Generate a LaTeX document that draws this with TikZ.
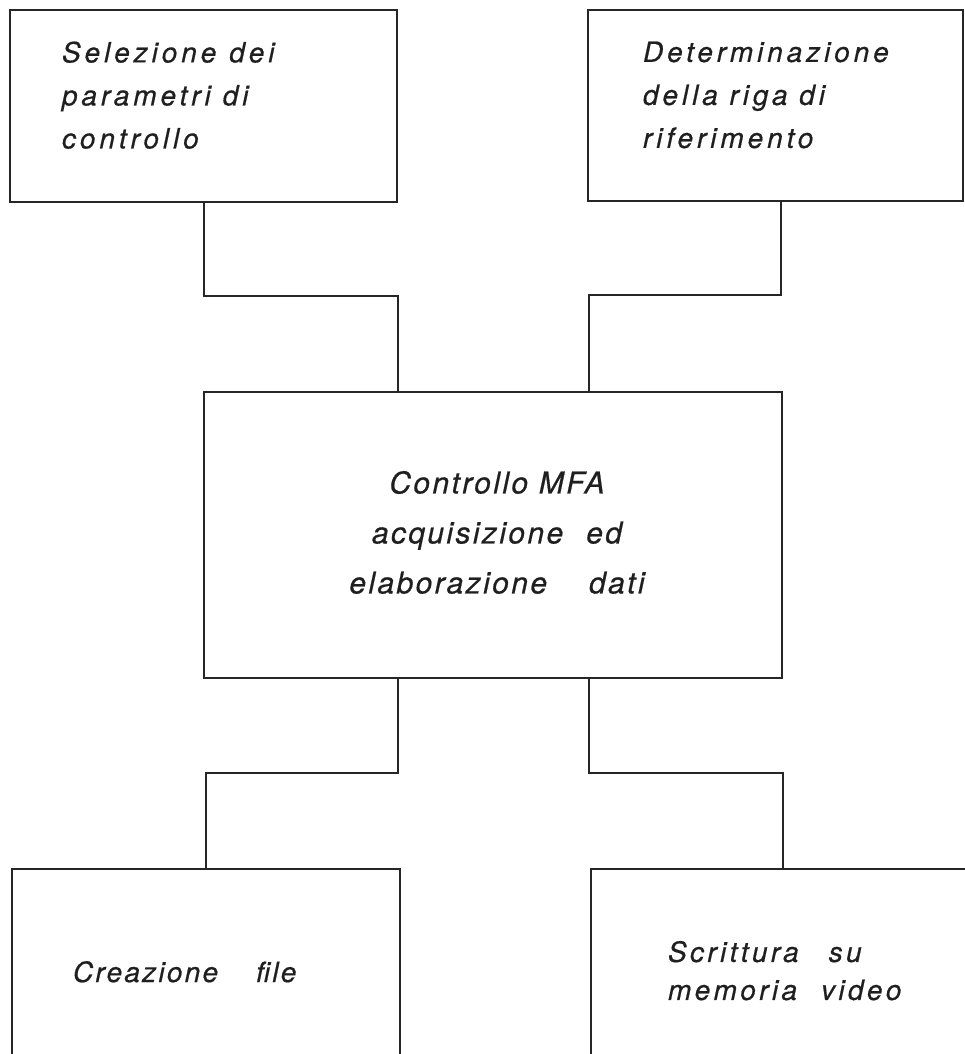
\documentclass[tikz,border=0pt]{standalone}
\usepackage{fontspec}
\setmainfont{TeX Gyre Heros}
% tracked oblique faces used inside the blocks
\newfontfamily\topfont[LetterSpace=14,FakeBold=0.6]{TeX Gyre Heros}
\newfontfamily\midfont[LetterSpace=8,FakeBold=0.6]{TeX Gyre Heros}
\newfontfamily\lowfont[LetterSpace=12,FakeBold=0.6]{TeX Gyre Heros}
\newfontfamily\lowfontb[LetterSpace=8,FakeBold=0.6]{TeX Gyre Heros}
\newcommand\wgap[1]{\hspace*{#1pt}}
\tikzset{
  blk/.style={draw=black!85, line width=2pt, rectangle, anchor=north west,
              inner sep=0pt, outer sep=0pt},
  wire/.style={draw=black!85, line width=2pt},
  lbl/.style={inner sep=0pt, outer sep=0pt, text=black!88},
}
\begin{document}
\begin{tikzpicture}[x=1pt,y=-1pt]
\useasboundingbox (0,0) rectangle (965,1054);
\clip (0,0) rectangle (965,1054);

% blocks
\node[blk, minimum width=387pt, minimum height=192pt] (sel) at (10,10) {};
\node[blk, minimum width=375pt, minimum height=191pt] (det) at (588,10) {};
\node[blk, minimum width=578pt, minimum height=286pt] (ctl) at (204,392) {};
\node[blk, minimum width=388pt, minimum height=220pt] (fil) at (12,869) {};
\node[blk, minimum width=384pt, minimum height=220pt] (vid) at (591,869) {};

% block texts
\node[lbl, anchor=north west, align=left,
      font={\topfont\itshape\fontsize{28}{43}\selectfont}] (selt) at (62,41.5)
  {Selezione\wgap{13}dei\\parametri\wgap{12}di\\controllo};
\node[lbl, anchor=north west, align=left,
      font={\topfont\itshape\fontsize{28}{43}\selectfont}] (dett) at (643,41.5)
  {Determinazione\\della riga di\\riferimento};
\node[lbl, anchor=north, align=center,
      font={\midfont\itshape\fontsize{30}{50}\selectfont}] (ctlt) at (497,471)
  {Controllo MFA\\acquisizione\wgap{23}ed\\elaborazione\wgap{42}dati};
\node[lbl, anchor=base west,
      font={\lowfontb\itshape\fontsize{28}{34}\selectfont}] (filt) at (73,982)
  {Creazione\wgap{38}file};
\node[lbl, anchor=north west, align=left,
      font={\lowfont\itshape\fontsize{28}{38}\selectfont}] (vidt) at (668,941)
  {Scrittura\wgap{30}su\\memoria\wgap{24}video};

% connectors
\draw[wire] (sel.south) -- ++(0,94) -| ([xshift=194pt]ctl.north west);
\draw[wire] ([xshift=5.5pt]det.south) -- ++(0,94) -| ([xshift=-193pt]ctl.north east);
\draw[wire] ([xshift=194pt]ctl.south west) -- ++(0,95) -| (fil.north);
\draw[wire] ([xshift=-193pt]ctl.south east) -- ++(0,95) -| (vid.north);
\end{tikzpicture}
\end{document}
